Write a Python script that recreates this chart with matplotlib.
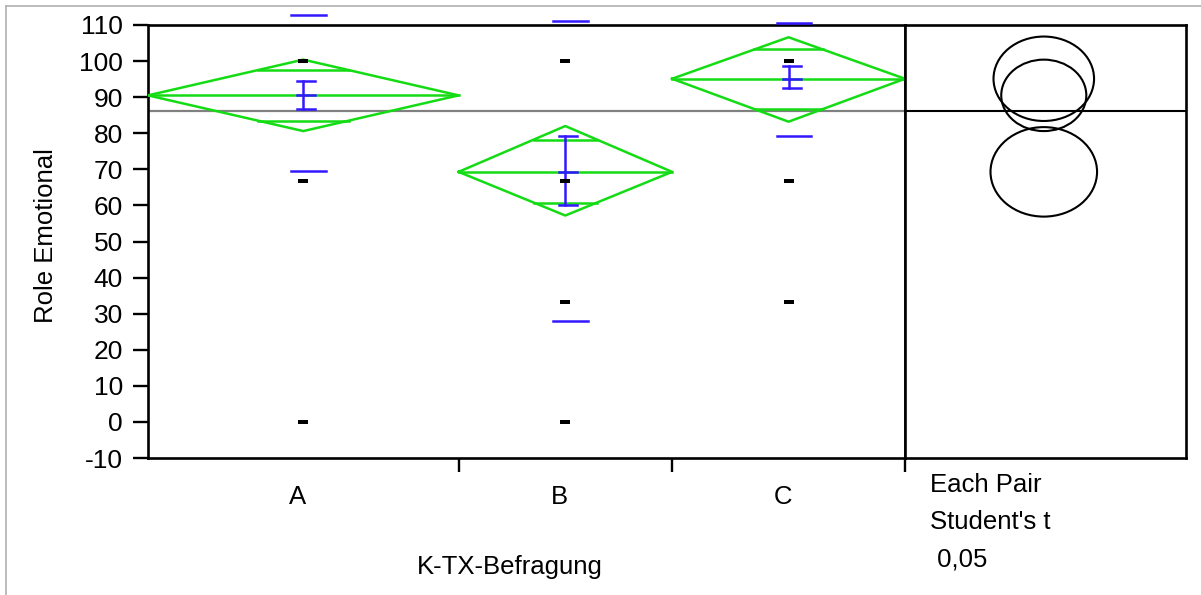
import numpy as np
import matplotlib
matplotlib.use("Agg")
from matplotlib import pyplot as plt
from matplotlib.lines import Line2D
from matplotlib.patches import Ellipse

plt.rcParams["font.family"] = ["Liberation Sans", "DejaVu Sans"]

# values
groups = ["A", "B", "C"]
group_n = [16, 11, 12]
means = [90.5, 69.3, 95.1]
ci_lower = [80.6, 57.2, 83.2]
ci_upper = [100.4, 82.0, 106.6]
se_lower = [86.6, 60.0, 92.5]
se_upper = [94.5, 79.3, 98.6]
sd_lower = [69.4, 28.0, 79.3]
sd_upper = [112.8, 111.2, 110.6]
grand_mean = 86.2
points_a = [0, 66.67, 100]
points_b = [0, 33.33, 66.67, 100]
points_c = [33.33, 66.67, 100]
y_ticks = list(range(-10, 111, 10))

W, H = 1201, 595
GREEN = "#14dc14"
BLUE = "#3218ff"
FS = 18.5
FS_TICK = 19


def px(x, y):
    return x / W, 1 - y / H


fig = plt.figure(figsize=(W / 100, H / 100), dpi=100)

# gray frame (top and left only)
fig.add_artist(Line2D([6 / W, 6 / W], [0, 1 - 6 / H], color="#b0b0b0", lw=1.2))
fig.add_artist(Line2D([6 / W, 1], [1 - 6 / H, 1 - 6 / H], color="#b0b0b0", lw=1.2))

ax = fig.add_axes([148 / W, (H - 458) / H, (905 - 148) / W, 433 / H])
ax2 = fig.add_axes([905 / W, (H - 458) / H, (1186 - 905) / W, 433 / H])

edges = np.concatenate([[0], np.cumsum(group_n)])
centers = (edges[:-1] + edges[1:]) / 2
ax.set_xlim(edges[0], edges[-1])
ax.set_ylim(-10, 110)

ax.axhline(grand_mean, color="#808080", lw=1.6, zorder=1)

rect = [(-1, -0.5), (1, -0.5), (1, 0.5), (-1, 0.5)]
all_points = [points_a, points_b, points_c]
for i in range(len(groups)):
    x0, x1, xc = edges[i], edges[i + 1], centers[i]
    m, lo, hi = means[i], ci_lower[i], ci_upper[i]
    half = (hi - lo) / 2
    # means diamond
    ax.plot([x0, xc, x1, xc, x0], [m, hi, m, lo, m], color=GREEN, lw=1.8, zorder=3)
    ax.plot([x0, x1], [m, m], color=GREEN, lw=1.8, zorder=3)
    # overlap marks
    d = half / np.sqrt(2)
    w = (x1 - x0) / 2 * (1 - d / half)
    for yy in (m + d, m - d):
        ax.plot([xc - w, xc + w], [yy, yy], color=GREEN, lw=1.8, zorder=3)
    # std error bar
    ax.plot([xc, xc], [se_lower[i], se_upper[i]], color=BLUE, lw=1.8, zorder=4)
    for yy in (se_lower[i], m, se_upper[i]):
        ax.plot([xc - 0.31, xc + 0.62], [yy, yy], color=BLUE, lw=1.8, zorder=4)
    # std dev lines
    for yy in (sd_lower[i], sd_upper[i]):
        ax.plot([xc - 0.62, xc + 1.18], [yy, yy], color=BLUE, lw=1.8,
                zorder=4, clip_on=False)
    # data points
    ax.plot([xc] * len(all_points[i]), all_points[i], ls="none", marker=rect,
            ms=6.5, color="black", mew=0, zorder=5)

ax.set_yticks(y_ticks)
ax.set_yticklabels([str(t) for t in y_ticks], fontsize=FS_TICK)
ax.set_xticks(edges[1:])
ax.set_xticklabels([])
ax.tick_params(axis="y", length=11, width=1.7, pad=7)
ax.tick_params(axis="x", length=10, width=1.7)
for s in ax.spines.values():
    s.set_linewidth(1.9)

for i, g in enumerate(groups):
    ax.text(centers[i] - 0.3, -20.8, g, fontsize=FS, ha="center", va="center",
            clip_on=False)

fig.text(*px(510, 567), "K-TX-Befragung", fontsize=FS, ha="center", va="center")
fig.text(*px(46, 236), "Role Emotional", fontsize=FS, ha="center", va="center",
         rotation=90)

# comparison circles panel
ax2.set_ylim(-10, 110)
ax2.set_xlim(-32.3, 33.1)
ax2.set_xticks([])
ax2.set_yticks([])
for s in ax2.spines.values():
    s.set_linewidth(1.9)
ax2.axhline(grand_mean, color="black", lw=1.5)
for i in range(len(groups)):
    r = (ci_upper[i] - ci_lower[i]) / 2
    ax2.add_patch(Ellipse((0, means[i]), 2 * r, 2 * r, fill=False,
                          edgecolor="black", lw=1.5))

fig.text(*px(930, 485), "Each Pair", fontsize=FS, ha="left", va="center")
fig.text(*px(930, 522), "Student's t", fontsize=FS, ha="left", va="center")
fig.text(*px(930, 560), " 0,05", fontsize=FS, ha="left", va="center")

fig.savefig("out.png", dpi=100)
